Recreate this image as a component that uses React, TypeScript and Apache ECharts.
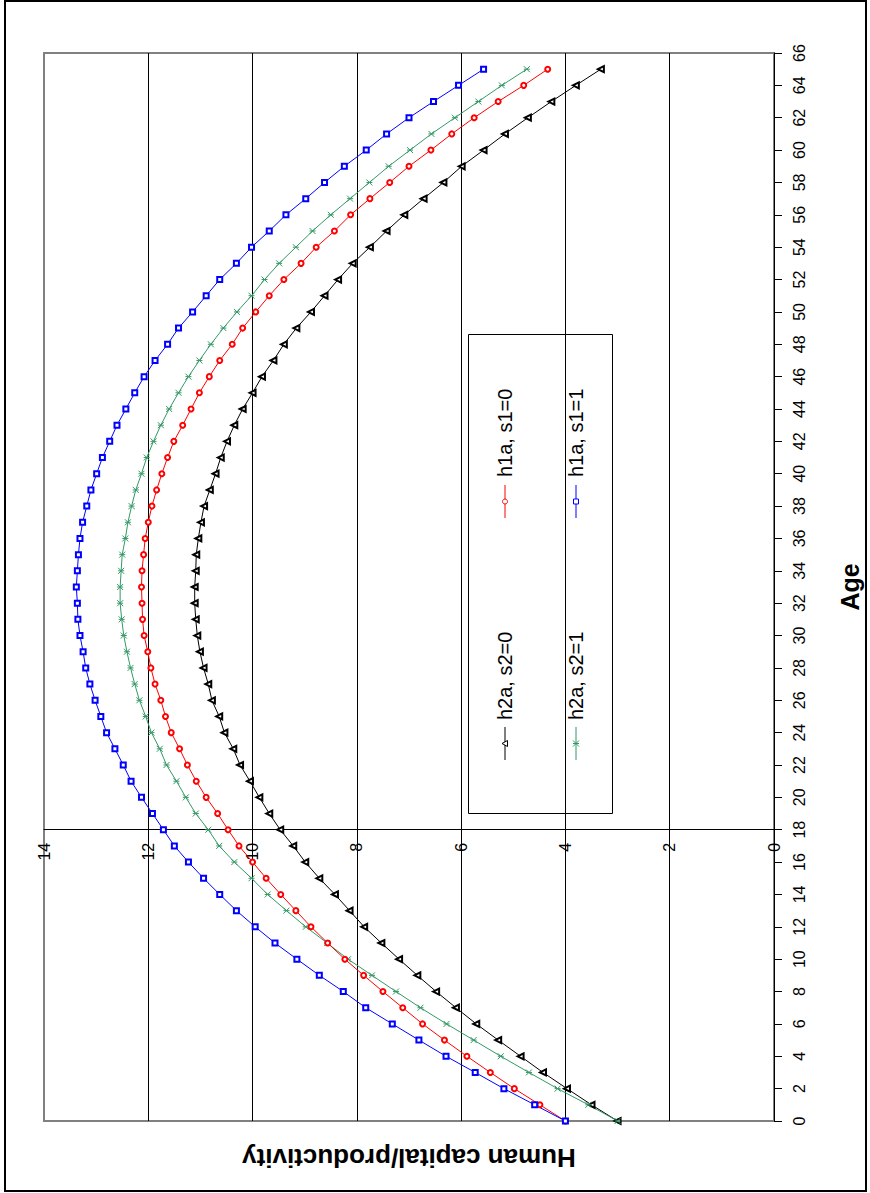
import { useEffect, useRef } from "react";
import * as echarts from "echarts";

// Age (years) of each observation
const AGES = [
  0, 1, 2, 3, 4, 5, 6, 7, 8, 9, 10, 11, 12, 13, 14, 15, 16, 17, 18, 19, 20, 21,
  22, 23, 24, 25, 26, 27, 28, 29, 30, 31, 32, 33, 34, 35, 36, 37, 38, 39, 40,
  41, 42, 43, 44, 45, 46, 47, 48, 49, 50, 51, 52, 53, 54, 55, 56, 57, 58, 59,
  60, 61, 62, 63, 64, 65,
];

// Human capital / productivity profiles by age
const H2A_S2_0 = [
  3.0, 3.5, 3.97, 4.43, 4.86, 5.29, 5.71, 6.1, 6.48, 6.84, 7.19, 7.53, 7.86,
  8.14, 8.42, 8.72, 8.99, 9.22, 9.47, 9.68, 9.87, 10.05, 10.24, 10.37, 10.54,
  10.64, 10.78, 10.85, 10.94, 11.01, 11.06, 11.09, 11.11, 11.11, 11.09, 11.08,
  11.04, 10.99, 10.93, 10.82, 10.71, 10.61, 10.49, 10.35, 10.19, 10.0, 9.82,
  9.6, 9.4, 9.16, 8.88, 8.62, 8.36, 8.08, 7.75, 7.43, 7.09, 6.72, 6.34, 5.99,
  5.57, 5.16, 4.72, 4.27, 3.8, 3.32,
];
const H1A_S1_0 = [
  4.0, 4.49, 4.98, 5.44, 5.89, 6.32, 6.74, 7.12, 7.5, 7.87, 8.23, 8.56, 8.88,
  9.17, 9.46, 9.74, 10.0, 10.26, 10.47, 10.67, 10.89, 11.08, 11.25, 11.4,
  11.56, 11.67, 11.76, 11.87, 11.95, 12.01, 12.08, 12.11, 12.12, 12.13, 12.12,
  12.09, 12.06, 12.0, 11.93, 11.84, 11.74, 11.63, 11.51, 11.34, 11.18, 11.02,
  10.83, 10.63, 10.39, 10.19, 9.94, 9.68, 9.4, 9.07, 8.78, 8.43, 8.12, 7.75,
  7.37, 7.0, 6.58, 6.18, 5.75, 5.29, 4.8, 4.34,
];
const H2A_S2_1 = [
  3.0, 3.56, 4.15, 4.7, 5.24, 5.76, 6.28, 6.78, 7.25, 7.71, 8.17, 8.57, 8.98,
  9.35, 9.71, 10.02, 10.35, 10.64, 10.85, 11.09, 11.28, 11.46, 11.65, 11.78,
  11.94, 12.05, 12.17, 12.26, 12.34, 12.41, 12.47, 12.51, 12.54, 12.54, 12.52,
  12.5, 12.44, 12.39, 12.32, 12.24, 12.13, 12.03, 11.9, 11.76, 11.6, 11.42,
  11.23, 11.02, 10.8, 10.56, 10.3, 10.02, 9.77, 9.49, 9.17, 8.85, 8.5, 8.13,
  7.76, 7.39, 6.98, 6.57, 6.12, 5.67, 5.22, 4.74,
];
const H1A_S1_1 = [
  4.0, 4.59, 5.18, 5.73, 6.29, 6.81, 7.32, 7.83, 8.26, 8.72, 9.15, 9.57, 9.95,
  10.31, 10.63, 10.94, 11.23, 11.5, 11.71, 11.92, 12.13, 12.33, 12.48, 12.64,
  12.8, 12.91, 13.02, 13.12, 13.2, 13.25, 13.31, 13.35, 13.36, 13.38, 13.36,
  13.34, 13.31, 13.26, 13.18, 13.1, 12.99, 12.88, 12.74, 12.6, 12.43, 12.26,
  12.08, 11.87, 11.63, 11.42, 11.15, 10.89, 10.63, 10.31, 10.02, 9.68, 9.36,
  8.98, 8.62, 8.24, 7.82, 7.43, 7.0, 6.53, 6.05, 5.57,
];

// Axis ranges
const VALUE_MIN = 0;
const VALUE_MAX = 14;
const VALUE_STEP = 2;
const AGE_MIN = 0;
const AGE_MAX = 66;
const AGE_STEP = 2;
const VALUE_AXIS_AT_AGE = 18;

const FONT = "'Liberation Sans', Arial, Helvetica, sans-serif";
const BLACK = "#000000";
const RED = "#ff0000";
const GREEN = "#339966";
const BLUE = "#0000ff";

// asterisk-style marker: an X crossed by a bar
const STAR_PATH = "path://M0,0L8,8M0,8L8,0M0,4L8,4";

type Entry = {
  name: string;
  data: number[];
  color: string;
  symbol: string;
  symbolSize: number;
  symbolRotate: number;
};

const SERIES: Entry[] = [
  { name: "h2a, s2=0", data: H2A_S2_0, color: BLACK, symbol: "emptyTriangle", symbolSize: 6, symbolRotate: 90 },
  { name: "h2a, s2=1", data: H2A_S2_1, color: GREEN, symbol: STAR_PATH, symbolSize: 6, symbolRotate: 0 },
  { name: "h1a, s1=0", data: H1A_S1_0, color: RED, symbol: "emptyCircle", symbolSize: 5, symbolRotate: 0 },
  { name: "h1a, s1=1", data: H1A_S1_1, color: BLUE, symbol: "emptyRect", symbolSize: 5, symbolRotate: 0 },
];

// legend layout: column x, line span and text start (text runs upward)
const LEGEND_SLOTS = [
  { x: 505, lineTop: 727, lineBottom: 760, textStart: 720 },
  { x: 576, lineTop: 727, lineBottom: 760, textStart: 720 },
  { x: 505, lineTop: 485, lineBottom: 518, textStart: 477 },
  { x: 576, lineTop: 485, lineBottom: 518, textStart: 477 },
];

function legendMarker(entry: Entry, cx: number, cy: number): any {
  if (entry.symbol === "emptyTriangle") {
    return {
      type: "polygon",
      shape: { points: [[cx - 3, cy], [cx + 2.5, cy - 3], [cx + 2.5, cy + 3]] },
      style: { fill: "#fff", stroke: entry.color, lineWidth: 1 },
    };
  }
  if (entry.symbol === "emptyCircle") {
    return {
      type: "circle",
      shape: { cx, cy, r: 2.5 },
      style: { fill: "#fff", stroke: entry.color, lineWidth: 1 },
    };
  }
  if (entry.symbol === "emptyRect") {
    return {
      type: "rect",
      shape: { x: cx - 2.5, y: cy - 2.5, width: 5, height: 5 },
      style: { fill: "#fff", stroke: entry.color, lineWidth: 1 },
    };
  }
  const s = 3;
  return {
    type: "group",
    children: [
      { type: "line", shape: { x1: cx - s, y1: cy - s, x2: cx + s, y2: cy + s }, style: { stroke: entry.color, lineWidth: 1 } },
      { type: "line", shape: { x1: cx - s, y1: cy + s, x2: cx + s, y2: cy - s }, style: { stroke: entry.color, lineWidth: 1 } },
      { type: "line", shape: { x1: cx - s, y1: cy, x2: cx + s, y2: cy }, style: { stroke: entry.color, lineWidth: 1 } },
    ],
  };
}

function buildLegend(): any[] {
  const items: any[] = [
    {
      type: "rect",
      shape: { x: 468.5, y: 334.5, width: 144, height: 479 },
      style: { fill: "#ffffff", stroke: "#000000", lineWidth: 1 },
    },
  ];
  SERIES.forEach((entry, i) => {
    const slot = LEGEND_SLOTS[i];
    const cy = (slot.lineTop + slot.lineBottom) / 2;
    items.push({
      type: "line",
      shape: { x1: slot.x, y1: slot.lineTop, x2: slot.x, y2: slot.lineBottom },
      style: { stroke: entry.color, lineWidth: 1 },
    });
    items.push(legendMarker(entry, slot.x, cy));
    items.push({
      type: "text",
      x: slot.x,
      y: slot.textStart,
      rotation: Math.PI / 2,
      style: {
        text: entry.name,
        fill: "#000",
        font: `20px ${FONT}`,
        align: "left",
        verticalAlign: "middle",
      },
    });
  });
  return items;
}

export default function App() {
  const ref = useRef<HTMLDivElement>(null);

  useEffect(() => {
    if (!ref.current) return;
    const chart = echarts.init(ref.current, undefined, { renderer: "svg" });

    const option: any = {
      animation: false,
      backgroundColor: "#ffffff",
      textStyle: { fontFamily: FONT },
      grid: {
        left: 44,
        top: 53,
        width: 731,
        height: 1068,
        show: true,
        borderColor: "#808080",
        borderWidth: 2,
        backgroundColor: "#ffffff",
        containLabel: false,
      },
      xAxis: [
        {
          type: "value",
          min: VALUE_MIN,
          max: VALUE_MAX,
          interval: VALUE_STEP,
          inverse: true,
          position: "bottom",
          offset: 0,
          axisLine: { show: true, onZero: false, lineStyle: { color: "#000", width: 1 } },
          axisTick: { show: false },
          axisLabel: {
            rotate: 90,
            margin: 13,
            fontSize: 16,
            color: "#000",
            fontFamily: FONT,
          },
          splitLine: {
            show: true,
            showMinLine: false,
            showMaxLine: false,
            lineStyle: { color: "#000", width: 1 },
          },
          z: 3,
        },
        {
          type: "value",
          min: VALUE_MIN,
          max: VALUE_MAX,
          inverse: true,
          position: "bottom",
          axisLine: { show: false },
          axisTick: { show: false },
          axisLabel: { show: false },
          splitLine: { show: false },
          name: "Human capital/productivity",
          nameLocation: "middle",
          nameRotate: 180,
          nameGap: 24,
          nameTextStyle: {
            fontSize: 26,
            fontWeight: "bold",
            color: "#000",
            fontFamily: FONT,
          },
        },
      ],
      yAxis: {
        type: "value",
        min: AGE_MIN,
        max: AGE_MAX,
        interval: AGE_STEP,
        position: "right",
        axisLine: { show: true, onZero: false, lineStyle: { color: "#000", width: 1 } },
        axisTick: { show: true, inside: false, length: 8, lineStyle: { color: "#000" } },
        axisLabel: {
          rotate: 90,
          margin: 17,
          fontSize: 16,
          color: "#000",
          fontFamily: FONT,
        },
        splitLine: { show: false },
        name: "Age",
        nameLocation: "middle",
        nameRotate: 90,
        nameGap: 63,
        nameTextStyle: {
          fontSize: 25,
          fontWeight: "bold",
          color: "#000",
          fontFamily: FONT,
        },
      },
      graphic: [
        {
          type: "rect",
          z: 200,
          silent: true,
          shape: { x: 5, y: 1, width: 861, height: 1190 },
          style: { fill: "none", stroke: "#000", lineWidth: 2 },
        },
        { type: "group", z: 100, children: buildLegend() },
      ],
      series: SERIES.map((entry) => ({
        name: entry.name,
        type: "line",
        xAxisIndex: 0,
        yAxisIndex: 0,
        data: entry.data.map((v, i) => [v, AGES[i]]),
        symbol: entry.symbol,
        symbolSize: entry.symbolSize,
        symbolRotate: entry.symbolRotate,
        showAllSymbol: true,
        smooth: false,
        lineStyle: { color: entry.color, width: 1 },
        itemStyle: {
          color: entry.color,
          borderColor: entry.color,
          borderWidth: 1,
        },
        emphasis: { disabled: true },
      })),
    };

    chart.setOption(option);

    // place the value axis where it crosses the age axis
    const yCross = chart.convertToPixel({ yAxisIndex: 0 }, VALUE_AXIS_AT_AGE) as number;
    const yBase = chart.convertToPixel({ yAxisIndex: 0 }, AGE_MIN) as number;
    chart.setOption({ xAxis: [{ offset: -(yBase - yCross) }, {}] });

    return () => chart.dispose();
  }, []);

  return (
    <div
      ref={ref}
      style={{ position: "absolute", left: 0, top: 0, width: 870, height: 1193 }}
    />
  );
}
